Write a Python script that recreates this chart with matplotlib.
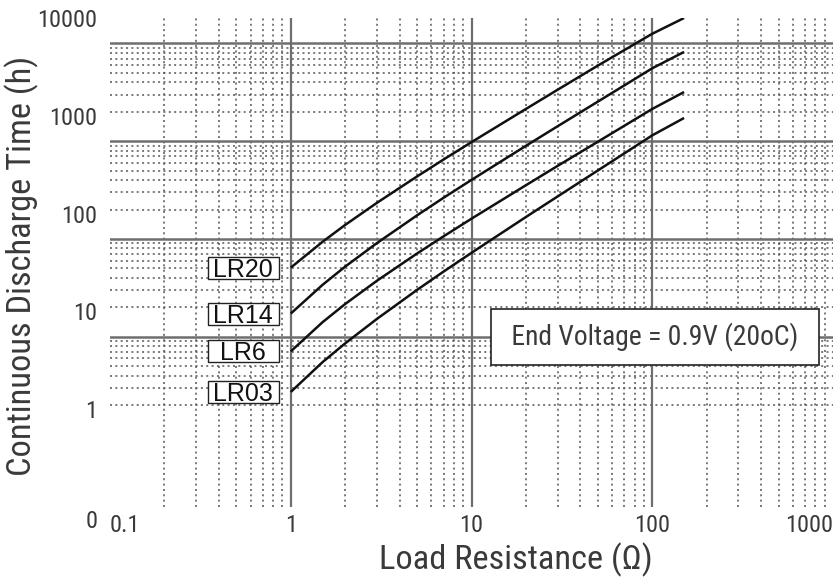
import matplotlib
matplotlib.use("Agg")
import matplotlib.pyplot as plt
from matplotlib.patches import Rectangle
from matplotlib.transforms import ScaledTranslation

# ---- data ----
load_ohm = [1, 1.5, 2, 3, 5, 7, 10, 20, 30, 50, 100, 150]
lr20 = [28, 51.5, 76.6, 129, 240, 357, 538, 1175, 1850, 3260, 6900, 10000]
lr14 = [9.5, 18.7, 28.7, 50, 96, 145, 221, 493, 783, 1396, 3060, 4500]
lr6 = [3.9, 7.76, 11.9, 20.6, 39.1, 58.5, 88.7, 195, 308, 543, 1175, 1750]
lr03 = [1.5, 3.03, 4.71, 8.39, 16.6, 25.5, 39.7, 92.3, 150, 276, 631, 950]
series_names = ["LR20", "LR14", "LR6", "LR03"]
series_vals = [lr20, lr14, lr6, lr03]

x_ticks = [0.1, 1, 10, 100, 1000]
x_ticklabels = ["0.1", "1", "10", "100", "1000"]
y_ticks = [1, 10, 100, 1000, 10000]
y_ticklabels = ["1", "10", "100", "1000", "10000"]
y_zero_label = "0"
x_title = "Load Resistance (Ω)"
y_title = "Continuous Discharge Time (h)"
note = "End Voltage = 0.9V (20oC)"

# grid of the scanned chart
x_major_grid = [1, 10, 100]
x_decades = [0.1, 1, 10, 100]
y_grid_base = [0.55, 5.5, 55, 550]
minor_mult = [2, 3, 4, 5, 6, 7, 8, 9]

COND = ["Roboto Condensed", "DejaVu Sans"]
PLAIN = ["Liberation Sans", "DejaVu Sans"]
TXT = "#3a3a3a"

fig = plt.figure(figsize=(8.36, 5.81), dpi=100)
W, H = 836, 581
renderer = fig.canvas.get_renderer()


def fit_size(text, family, target_px, ref=20.0):
    t = fig.text(0, 0, text, fontsize=ref, family=family)
    w = t.get_window_extent(renderer).width
    t.remove()
    return ref * target_px / w


tick_fs = fit_size("10000", COND, 60)
title_fs = fit_size(y_title, COND, 420)
note_fs = fit_size(note, COND, 287)

ax = fig.add_axes([110 / W, (H - 507) / H, 723 / W, 489 / H])
ax.set_xscale("log")
ax.set_yscale("log")
ax.set_xlim(0.1, 1000)
ax.set_ylim(0.1, 10000)
for s in ax.spines.values():
    s.set_visible(False)

dot = (0, (1.3, 2.2))
for d in x_decades:
    for m in minor_mult:
        ax.axvline(d * m, color="#555555", lw=1.1, ls=dot, zorder=1)
for v in x_major_grid:
    ax.axvline(v, color="#6e6e6e", lw=1.6, zorder=2)
for b in y_grid_base:
    for m in minor_mult:
        ax.axhline(b * m, color="#555555", lw=1.1, ls=dot, zorder=1)
    if b * 10 < 10000:
        ax.axhline(b * 10, color="#6e6e6e", lw=1.8, zorder=2)

# curves + boxed labels
box_w, box_h, box_dx = 0.71, 0.22, -0.475  # inches
lab_fs = 18
for name, vals in zip(series_names, series_vals):
    ax.plot(load_ohm, vals, color="#111111", lw=1.8, zorder=4,
            solid_capstyle="butt")
    tr = fig.dpi_scale_trans + ScaledTranslation(load_ohm[0], vals[0],
                                                 ax.transData)
    ax.add_patch(Rectangle((box_dx - box_w / 2, -box_h / 2), box_w, box_h,
                           transform=tr, fc="white", ec="#222222", lw=1.0,
                           zorder=5, clip_on=False))
    ax.annotate(name, xy=(load_ohm[0], vals[0]),
                xytext=(box_dx * 72, -0.358 * lab_fs),
                textcoords="offset points", ha="center", va="baseline",
                fontsize=lab_fs, family=PLAIN, color="#111111", zorder=6)

ax.text(0.961, 0.348, " " + note + " ", transform=ax.transAxes,
        ha="right", va="center", fontsize=note_fs, family=COND, color=TXT,
        zorder=6,
        bbox=dict(boxstyle="square,pad=0.5", fc="white", ec="#222222",
                  lw=1.2))

ax.set_xticks(x_ticks)
ax.set_xticklabels(x_ticklabels)
ax.set_yticks(y_ticks)
ax.set_yticklabels(y_ticklabels)
ax.minorticks_off()
ax.tick_params(axis="both", length=0, labelsize=tick_fs, labelcolor=TXT)
ax.tick_params(axis="y", pad=9)
ax.tick_params(axis="x", pad=5)
for t in ax.get_xticklabels() + ax.get_yticklabels():
    t.set_family(COND)
xt = ax.get_xticklabels()
xt[0].set_ha("left")
xt[-1].set_ha("right")
ax.annotate(y_zero_label, xy=(0, 0), xycoords="axes fraction",
            xytext=(-8.6, -10.5), textcoords="offset points",
            ha="right", va="center", fontsize=tick_fs, family=COND, color=TXT)

ax.set_xlabel(x_title, fontsize=title_fs, family=COND, color=TXT)
ax.xaxis.label.set_va("center")
ax.xaxis.set_label_coords(0.5615, -0.108)
ax.set_ylabel(y_title, fontsize=title_fs, family=COND, color=TXT)
ax.yaxis.label.set_va("center")
ax.yaxis.set_label_coords(-0.1217, 0.493)

fig.savefig("out.png", dpi=100)
